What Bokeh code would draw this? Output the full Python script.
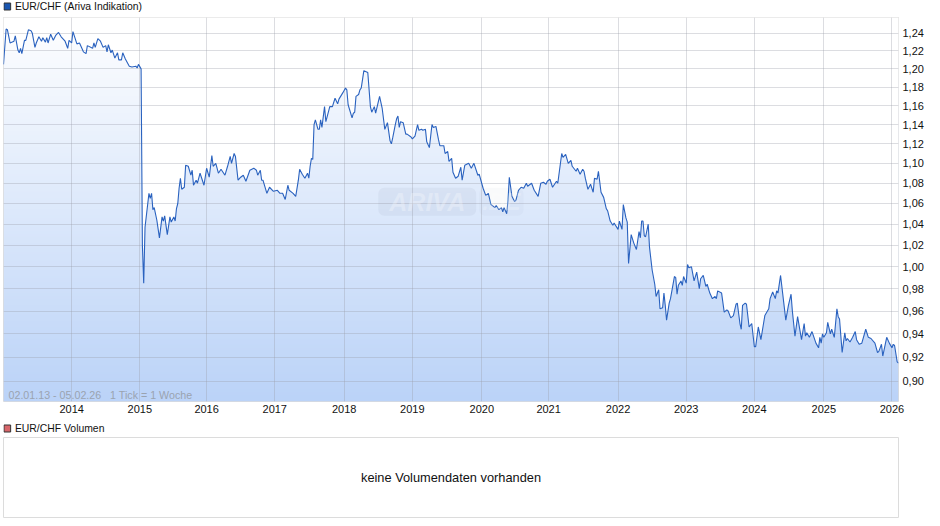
import numpy as np
from bokeh.plotting import figure
from bokeh.layouts import column
from bokeh.models import Label, FixedTicker, Range1d, ColumnDataSource
from bokeh.embed import file_html
from bokeh.resources import INLINE

# one tick = one week since 02.01.13
weeks = [0,2,3,5,8,9,11,12,13,14,16,17,19,21,22,24,25,27,29,30,32,33,34,36,38,40,42,44,47,49,50,52,53,56,58,61,63,64,68,69,70,72,74,76,78,79,80,82,83,85,87,88,90,91,93,96,98,101,102,103,105,
106,107,108,111,112,113,114,115,117,119,121,122,123,125,127,128,130,131,132,133,134,135,136,138,139,141,143,144,145,147,148,150,153,155,157,159,160,162,164,166,169,171,173,174,176,177,179,181,183,185,188,191,193,194,196,197,198,201,203,206,209,211,213,215,217,218,221,223,225,226,228,230,232,233,234,235,236,237,238,240,241,242,243,245,246,249,251,253,255,256,259,261,262,263,266,267,268,269,271,272,273,275,278,280,281,283,284,287,289,291,293,295,296,297,299,300,301,302,303,305,307,308,311,312,314,316,317,319,320,322,323,325,327,328,330,332,333,336,337,339,340,342,343,345,347,349,350,352,355,357,359,362,363,366,368,370,372,375,376,378,380,381,382,384,385,386,388,390,391,393,395,397,399,400,403,405,408,410,412,414,415,417,419,422,423,426,427,429,431,433,434,437,438,440,442,443,444,446,448,450,451,453,454,456,458,460,461,463,465,466,467,469,470,472,473,475,476,477,479,481,483,485,486,487,488,489,490,492,493,495,497,498,500,501,503,504,505,506,508,509,512,513,514,515,517,518,519,521,522,523,525,527,529,531,532,534,536,537,539,541,543,544,545,548,550,552,553,555,557,559,560,562,563,564,566,567,569,571,573,574,576,578,580,581,584,585,587,589,590,591,593,597,599,601,602,604,606,609,611,612,613,615,617,620,622,623,624,625,626,628,629,631,632,634,636,637,638,640,642,643,644,646,648,650,651,653,655,658,660,662,665,667,668,670,671,674,676,678,679,680,682,683]
rates = [1.205,1.245,1.244,1.229,1.231,1.237,1.221,1.218,1.223,1.217,1.232,1.232,1.244,1.243,1.24,1.224,1.229,1.236,1.231,1.235,1.23,1.235,1.229,1.239,1.232,1.238,1.241,1.236,1.231,1.223,1.232,1.229,1.242,1.228,1.229,1.219,1.217,1.226,1.223,1.229,1.224,1.234,1.231,1.224,1.226,1.219,1.227,1.218,1.221,1.212,1.218,1.21,1.21,1.218,1.211,1.203,1.202,1.203,1.201,1.205,1.2,
1.02,0.985,1.037,1.07,1.065,1.07,1.054,1.056,1.044,1.027,1.047,1.043,1.048,1.03,1.047,1.042,1.047,1.043,1.055,1.06,1.075,1.085,1.074,1.076,1.098,1.097,1.088,1.093,1.078,1.083,1.08,1.09,1.078,1.095,1.086,1.108,1.097,1.1,1.09,1.094,1.088,1.097,1.107,1.1,1.11,1.107,1.083,1.086,1.088,1.082,1.093,1.095,1.093,1.088,1.093,1.083,1.083,1.07,1.076,1.072,1.073,1.07,1.07,1.064,1.078,1.073,1.07,1.067,1.083,1.094,1.089,1.085,1.09,1.085,1.097,1.105,1.104,1.14,1.145,1.135,1.135,1.145,1.137,1.159,1.143,1.159,1.159,1.168,1.162,1.167,1.174,1.179,1.177,1.161,1.147,1.152,1.153,1.17,1.172,1.177,1.179,1.198,1.196,1.159,1.153,1.159,1.152,1.17,1.157,1.135,1.142,1.123,1.12,1.126,1.14,1.146,1.149,1.137,1.143,1.142,1.13,1.13,1.127,1.125,1.128,1.14,1.134,1.135,1.134,1.135,1.122,1.116,1.14,1.137,1.138,1.124,1.118,1.118,1.11,1.112,1.102,1.105,1.091,1.085,1.087,1.096,1.083,1.098,1.1,1.095,1.1,1.088,1.089,1.075,1.068,1.07,1.059,1.056,1.058,1.054,1.056,1.052,1.056,1.05,1.063,1.086,1.067,1.062,1.063,1.073,1.076,1.075,1.08,1.077,1.08,1.073,1.067,1.08,1.081,1.079,1.082,1.084,1.076,1.082,1.08,1.11,1.106,1.109,1.1,1.103,1.097,1.092,1.095,1.089,1.094,1.092,1.085,1.074,1.079,1.071,1.085,1.084,1.092,1.071,1.066,1.055,1.053,1.043,1.039,1.041,1.039,1.035,1.043,1.035,1.059,1.046,1.042,1.003,1.03,1.022,1.016,1.033,1.027,1.043,1.043,1.029,1.028,1.04,1.018,0.997,0.984,0.973,0.979,0.962,0.963,0.976,0.965,0.952,0.967,0.971,0.991,0.99,0.975,0.983,0.987,0.983,0.991,0.985,1.002,0.999,1.0,0.987,0.995,0.98,0.989,0.992,0.982,0.984,0.976,0.971,0.973,0.971,0.978,0.976,0.959,0.961,0.96,0.954,0.956,0.966,0.967,0.949,0.944,0.965,0.967,0.966,0.946,0.949,0.929,0.929,0.946,0.935,0.949,0.956,0.962,0.971,0.977,0.971,0.978,0.976,0.992,0.952,0.965,0.975,0.96,0.938,0.955,0.935,0.949,0.938,0.941,0.937,0.942,0.932,0.928,0.937,0.932,0.94,0.937,0.941,0.95,0.94,0.944,0.937,0.962,0.955,0.953,0.924,0.941,0.934,0.936,0.933,0.937,0.942,0.935,0.931,0.932,0.944,0.937,0.936,0.932,0.924,0.925,0.931,0.921,0.937,0.932,0.928,0.931,0.93,0.916,0.915]
assert len(weeks) == len(rates), (len(weeks), len(rates))

year_weeks = [52,104,155,207,260,312,365,416,469,521,573,626,678]
year_labels = ["2014","2015","2016","2017","2018","2019","2020","2021","2022","2023","2024","2025","2026"]
rate_ticks = [1.24,1.22,1.20,1.18,1.16,1.14,1.12,1.10,1.08,1.06,1.04,1.02,1.00,0.98,0.96,0.94,0.92,0.90]
rate_labels = ["1,24","1,22","1,20","1,18","1,16","1,14","1,12","1,10","1,08","1,06","1,04","1,02","1,00","0,98","0,96","0,94","0,92","0,90"]

FONT = "Liberation Sans"
GRID = "#9a9fa8"
Y_TOP, Y_BOT = 1.2582, 0.8832
X_END = 683

def heading(text, color, height, box_top, text_y):
    h = figure(width=940, height=height, output_backend="svg", toolbar_location=None,
               x_axis_type=None, y_axis_type=None, x_range=Range1d(0, 940), y_range=Range1d(height, 0),
               min_border=0, outline_line_color=None, background_fill_color="white", border_fill_color="white")
    h.grid.visible = False
    h.quad(left=[0.5], right=[7.5], top=[box_top], bottom=[box_top + 7], fill_color=color, line_color="#333333", line_width=1)
    h.add_layout(Label(x=12, y=text_y, text=text, text_font=FONT, text_font_size="10.4px",
                       text_color="#111111", text_baseline="middle"))
    return h

src = ColumnDataSource(dict(week=weeks, rate=rates, top=[Y_TOP]*len(weeks)))

p = figure(width=940, height=404, output_backend="svg", toolbar_location=None,
           y_axis_type="log", y_axis_location="right",
           x_range=Range1d(0, X_END), y_range=Range1d(Y_BOT, Y_TOP),
           min_border_left=3, min_border_right=42, min_border_top=1, min_border_bottom=19,
           background_fill_color="white", border_fill_color="white", outline_line_color="#dcdcdc")

# gradient under the curve, white mask above it, grid above both
rows = 256
t = np.linspace(0, 1, rows)[:, None]
low, high = np.array([187, 211, 248]), np.array([255, 255, 255])
rgb = (low[None, :] + (high - low)[None, :] * t).astype(np.uint32)
img = (255 << 24) | (rgb[:, 2] << 16) | (rgb[:, 1] << 8) | rgb[:, 0]
p.image_rgba(image=[img.reshape(rows, 1).astype(np.uint32)], x=0, y=Y_BOT, dw=X_END, dh=Y_TOP - Y_BOT, level="image")
p.varea(x="week", y1="rate", y2="top", source=src, fill_color="white", level="image")
p.line(x="week", y="rate", source=src, line_color="#2a62bf", line_width=1.1)

for ax in p.xaxis:
    ax.ticker = FixedTicker(ticks=year_weeks)
    ax.major_label_overrides = dict(zip(year_weeks, year_labels))
    ax.major_label_standoff = 3
for ax in p.yaxis:
    ax.ticker = FixedTicker(ticks=rate_ticks)
    ax.major_label_overrides = dict(zip(rate_ticks, rate_labels))
    ax.major_label_standoff = 4
for ax in list(p.xaxis) + list(p.yaxis):
    ax.major_label_text_font = FONT
    ax.major_label_text_font_size = "11px"
    ax.major_label_text_color = "#111111"
    ax.axis_line_color = None
    ax.major_tick_line_color = None
    ax.minor_tick_line_color = None
    ax.major_tick_out = 0
    ax.major_tick_in = 0
p.xgrid.ticker = FixedTicker(ticks=year_weeks)
p.ygrid.ticker = FixedTicker(ticks=rate_ticks)
for g in (p.xgrid[0], p.ygrid[0]):
    g.grid_line_color = GRID
    g.grid_line_alpha = 0.35
    g.grid_line_width = 1

p.add_layout(Label(x=8, y=378.5, x_units="canvas", y_units="canvas",
                   text="02.01.13 - 05.02.26\u00a0\u00a0\u00a01 Tick = 1 Woche",
                   text_font=FONT, text_font_size="10.7px", text_color="#9aa3b0", text_baseline="middle"))
# watermark
p.add_layout(Label(x=286, y=1.048, text="ARIVA", text_font=FONT, text_font_size="25px", text_font_style="bold italic",
                   text_color="white", text_alpha=0.28, background_fill_color="#6f7f99", background_fill_alpha=0.08,
                   padding=(11, 0), border_radius=6, text_baseline="bottom"))
p.add_layout(Label(x=363, y=1.048, text=".DE", text_font=FONT, text_font_size="23px", text_font_style="bold italic",
                   text_color="white", text_alpha=0.22, background_fill_color="#6f7f99", background_fill_alpha=0.04,
                   padding=(3, 1), border_radius=6, text_baseline="bottom"))

v = figure(width=940, height=82, output_backend="svg", toolbar_location=None,
           x_axis_type=None, y_axis_type=None, x_range=Range1d(0, 1), y_range=Range1d(0, 1),
           min_border_left=3, min_border_right=42, min_border_top=1, min_border_bottom=1,
           background_fill_color="white", border_fill_color="white", outline_line_color="#dcdcdc")
v.grid.visible = False
v.add_layout(Label(x=0.5, y=0.5, text="keine Volumendaten vorhanden", text_font=FONT, text_font_size="12.8px",
                   text_color="#111111", text_align="center", text_baseline="middle"))

head1 = heading("EUR/CHF (Ariva Indikation)", "#1a56b0", 16, 2.5, 6)
head2 = heading("EUR/CHF Volumen", "#d8666a", 16, 4.5, 7.5)

page = column(head1, p, head2, v, spacing=0)
page.styles = {"position": "absolute", "left": "0", "top": "0"}
open("out.html", "w").write(file_html(page, INLINE))
